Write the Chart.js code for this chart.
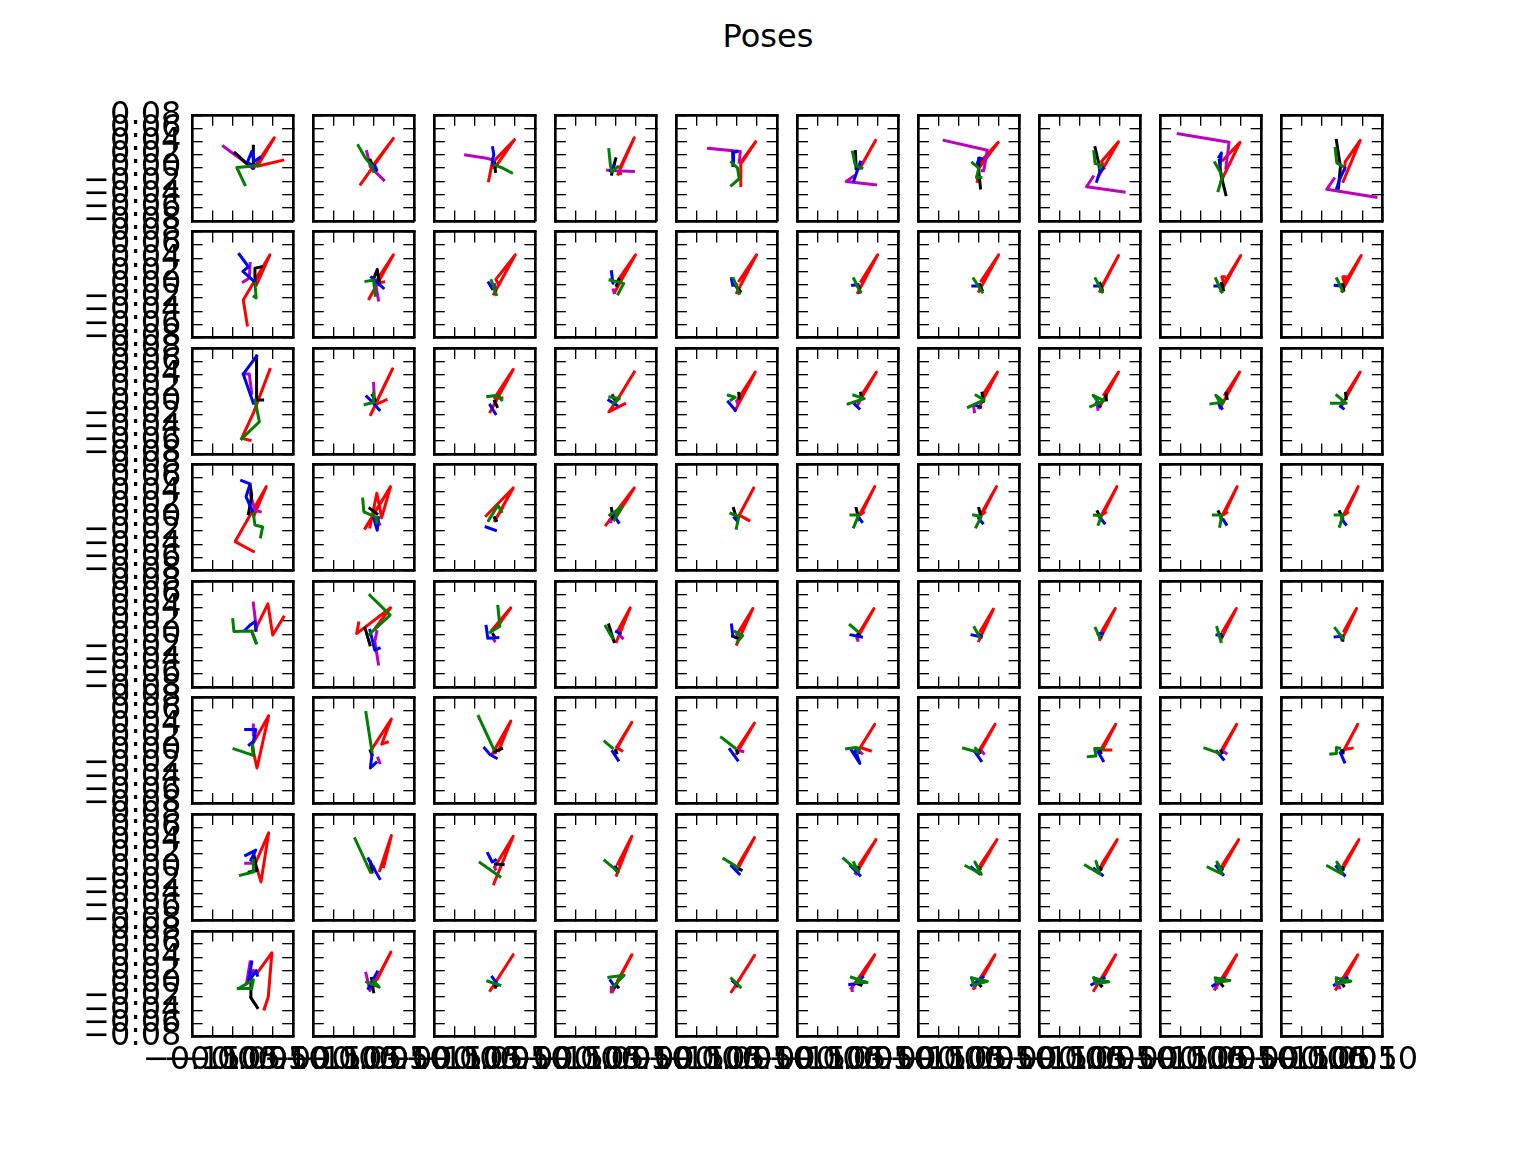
<!DOCTYPE html>
<html>
<head>
<meta charset="utf-8">
<script src="https://cdn.jsdelivr.net/npm/chart.js@4.4.1/dist/chart.umd.min.js"></script>
<style>
  html, body { margin:0; padding:0; background:#fff; }
  #fig { position:relative; width:1536px; height:1152px; overflow:hidden; background:#fff; }
  #title { position:absolute; left:0; width:1536px; top:20px; text-align:center;
           font-family:"DejaVu Sans"; font-size:32px; line-height:32px; color:#000; }
  canvas { position:absolute; }
</style>
</head>
<body>
<div id="fig"><div id="title">Poses</div></div>
<script>
const figureTitle = "Poses";
const nRows = 8, nCols = 10;
const xTicks = [-0.15, -0.10, -0.05, 0.00, 0.05, 0.10];
const yTicks = [-0.08, -0.06, -0.04, -0.02, 0.00, 0.02, 0.04, 0.06, 0.08];
const xRange = [-0.15, 0.10];
const yRange = [-0.08, 0.08];

// one flat [x1,y1,x2,y2,...] polyline per panel, panels in row-major order
const redLines = [
 [.003,0,.054,.046,.012,.003,.075,.012],[-.003,.003,.049,.045,-.032,-.024],[-.015,-.019,-.006,.008,.049,.043,0,0],[.006,-.009,.046,.046,.01,0,.012,-.008],[.01,-.026,.01,.009,.047,.04,.014,.01],
 [.005,0,.044,.042,.01,.005],[-.004,-.02,0,0,.048,.039,.004,.01],[-.004,-.013,.046,.04,.004,.01,.01,0],[0,-.02,.047,.039,.005,.012],[.003,-.02,.045,.042,.008,.01,.006,-.002],
 [-.013,-.061,-.023,-.023,.043,.045,.01,0],[-.011,-.021,.049,.045,.003,.002,.025,.004],[-.002,-.014,.051,.045,.003,.008,.01,0],[-.002,-.011,.049,.045,.005,.006],[0,-.012,.049,.045,.006,.006],
 [0,-.012,.049,.045,.008,.005],[0,-.01,.049,.045,.006,.006],[0,-.01,.046,.044,.007,0],[0,-.01,.049,.044,.007,.002,.002,.012,.008,.012],[0,-.01,.0475,.044,.006,.002,.002,.012,.008,.012],
 [-.006,-.059,-.027,-.056,.002,-.018,.043,.048],[-.007,-.02,.047,.049,.004,-.005,.031,.002],[-.011,-.016,.046,.048,0,.005,.018,.005],[.046,.044,.004,.002,-.017,-.016,.022,-.004],[-.004,-.014,.046,.044,.003,.003],
 [0,-.005,.046,.044,.01,.01],[0,-.01,.046,.044,.01,.01],[0,-.008,.046,.044,.01,.01],[0,-.008,.046,.044,.01,.01],[0,-.006,.045,.044,.01,.01],
 [.002,-.051,-.043,-.036,.034,.047,.005,.005],[-.009,-.014,.008,.037,.02,0,.042,.047,-.021,-.016],[-.021,.003,.046,.045,0,-.005,.02,.015],[-.024,-.011,.046,.045,0,0],[.002,-.001,.042,.045,.006,.004,.03,-.004],
 [0,0,.042,.047,.008,.005,.014,.008],[0,0,.0435,.047,.008,.005,.014,.008],[0,0,.042,.047,.008,.005,.014,.008],[0,0,.04,.047,.008,.005,.014,.008],[0,0,.04,.047,.008,.005,.014,.008],
 [.006,.006,.038,.046,.05,-.001,.077,.026],[-.037,.017,-.042,.001,.042,.04,.005,.01],[-.006,.007,.04,.04,.005,.01],[.002,-.011,.036,.04,.005,.005],[0,-.015,.04,.039,.006,.005],
 [0,-.005,.04,.039,.006,.005],[0,-.01,.036,.038,.004,.005],[0,-.008,.038,.039,.005,.005],[0,-.008,.038,.039,.005,.005],[0,-.008,.036,.039,.005,.005],
 [0,.005,.011,-.026,.04,.053,0,.01],[-.004,.003,.044,.048,.02,.01,.034,.013],[-.006,-.005,.04,.045,.01,0],[0,0,.04,.043,.002,.005,.015,0],[0,-.004,.044,.042,.004,.005],
 [0,-.001,.042,.04,.006,.005,.031,0],[0,-.004,.04,.04,.004,.004],[0,0,.039,.04,.006,.001,.027,.001],[0,-.004,.039,.04,.004,.004],[0,-.004,.039,.04,.006,.002,.025,.004],
 [.005,.003,.04,.052,.021,-.022,.01,0],[.015,-.005,.044,.048,.025,.001],[-.002,-.025,.046,.047,0,0],[.002,-.012,.04,.047,.005,.005],[0,-.005,.044,.045,.005,.005],
 [0,-.005,.045,.042,.005,.005],[0,-.005,.045,.042,.005,.005],[0,-.005,.043,.042,.005,.005],[0,-.005,.044,.042,.005,.005],[0,-.005,.042,.042,.005,.005],
 [.029,-.038,.039,-.02,.048,.047,.01,.015],[0,-.002,.043,.048,.01,.008],[-.011,-.01,.046,.044,.005,.005],[-.008,-.012,.04,.044,.005,.005],[-.013,-.012,.044,.043,.005,.005],
 [-.016,-.007,.042,.044,.002,.002],[-.013,-.007,.04,.044,.002,.002],[-.015,-.01,.039,.044,.002,.002],[-.015,-.008,.039,.044,.002,.002],[-.015,-.008,.039,.044,.002,.002]
];
const greenLines = [
 [.015,.005,-.002,.003,-.039,.001,-.019,-.025],[-.038,.034,-.02,.015,-.003,.003,0,-.005],[0,.005,.02,0,.042,-.007],[-.017,.028,-.013,.004,-.01,-.005,.005,.002],[-.013,.009,.002,0,.006,-.016,-.013,-.026],
 [-.013,.024,-.006,.004,.01,0],[-.016,.008,0,0,-.006,-.014,.005,-.014],[-.015,.025,-.012,.007,.002,.005,0,0],[-.015,.008,.004,-.012,-.007,-.034],[-.017,.03,-.013,.008,.001,.003],
 [.006,.002,.009,-.02,.004,-.018],[-.019,.005,0,.007,.004,-.016],[-.008,.006,.004,-.015],[-.014,.007,.02,.002,.006,-.014],[-.008,.009,.006,-.013],
 [-.01,.009,.006,-.011],[-.013,.009,.008,-.011],[-.011,.009,.006,-.011],[-.013,.009,.002,-.011],[-.013,.009,.002,-.01],
 [-.027,-.057,.017,-.031,.006,.002],[-.021,-.005,0,-.002,0,.012],[-.017,.007,.008,.009,.017,.002],[-.0145,.0065,.009,.004,-.0066,-.0035],[-.021,.009,-.004,.006,-.014,.002],
 [-.024,-.004,.016,.004,-.01,.009],[-.026,-.009,.013,.002,-.007,.009],[-.023,-.008,.01,.001,-.017,.009,-.002,-.003],[-.025,-.004,.007,-.001,-.013,.009,0,-.004],[-.026,-.003,.01,-.003,-.013,.009],
 [.002,.006,.006,-.011,.025,-.014,.02,-.029],[-.027,.028,-.024,.009,.006,.001,.008,-.008],[-.015,-.004,.008,.019,.017,.009],[-.0145,.004,.016,.0166,-.004,-.0035],[-.0145,.0065,.005,.0015,-.001,-.016],
 [-.017,.004,.002,.004,-.01,-.014],[-.013,.004,.006,.002,-.007,-.014],[-.014,.004,.004,.003,-.004,-.01],[-.019,.004,.002,.004,-.003,-.013],[-.017,.004,.002,.004,-.006,-.013],
 [-.049,.022,-.046,.004,-.002,.005,.009,-.013],[-.009,.059,.041,.029,0,.006,-.01,0],[.008,.042,.013,.012,-.011,.003],[-.025,.012,-.008,-.006],[-.004,.004,.015,-.002,.002,-.011],
 [-.019,.014,0,.004],[-.011,.01,.002,-.004],[-.011,.009,0,-.006],[-.01,.01,0,-.011],[-.017,.009,.002,-.006],
 [-.046,.003,.002,-.007,0,.009],[-.019,.058,-.004,-.001],[-.04,.052,-.002,.002],[-.027,.014,-.008,.004],[-.038,.02,-.004,.004],
 [-.028,.003,-.005,.005,.003,.004,0,-.003],[-.038,.004,0,-.0025,-.008,.0035],[-.029,-.009,-.01,-.008,-.013,.0035,.008,.0035],[-.04,.004,-.004,-.004],[-.028,-.005,-.014,-.004,-.014,.005,-.006,.004],
 [-.03,-.012,.002,-.007,.002,.011],[-.046,.043,-.008,-.007],[-.036,.007,.013,-.014],[-.027,.01,.006,-.007],[-.032,.013,.002,0],
 [-.035,.013,.002,-.007,-.01,.007],[-.032,.002,.006,-.0105,-.01,.008,0,-.002],[-.036,.003,0,-.01,-.01,.009,-.005,0],[-.032,0,.002,-.01,-.01,.008,0,-.002],[-.036,.002,0,-.01,-.013,.008,-.004,0],
 [-.035,-.007,.002,.006,-.002,-.007,-.035,-.007],[-.017,.003,.014,-.005,0,.005],[-.017,.004,.013,-.002],[-.017,.01,.021,.013,-.008,-.005],[-.013,.008,.009,-.005],
 [-.016,.01,.023,.002,-.006,.002,.005,.008],[-.018,.009,.021,.004,-.013,-.002,-.018,.009],[-.015,.009,.022,.003,-.011,0,-.015,.009],[-.014,.009,.022,.005,-.012,.002,-.014,.009],[-.014,.009,.022,.004,-.014,0,-.014,.009]
];
const blueLines = [
 [0,0,-.012,.01,-.002,.025,.004,.01,.018,.016],[0,0,.008,-.003,.003,.004],[-.005,.031,-.002,.02,-.006,.012,-.003,.005],[-.013,-.004,-.005,.004],[-.009,.004,-.008,.024,0,.025],
 [.006,.009,-.01,-.019],[-.004,.007,.001,.015,.007,.014],[-.008,-.02,0,-.005,.008,0],[-.005,.017,.001,.023,-.002,.005],[.007,0,-.007,-.018,-.013,-.03],
 [-.033,.046,-.01,.027,-.024,.02,.006,.004],[-.005,.011,.024,-.005],[-.015,.003,-.006,-.006],[-.0105,.0196,-.0066,.002,-.01,.008],[-.013,.009,-.01,-.001],
 [-.013,-.001,0,0],[-.015,-.002,0,-.002],[-.013,-.002,-.004,-.002],[-.015,-.002,-.004,-.002],[-.017,-.001,-.002,-.002],
 [.01,.068,-.023,.041,.002,-.003],[-.017,.007,0,-.003,.014,-.013],[-.011,-.006,.002,-.019],[-.017,.0015,.0026,-.006],[-.021,-.001,-.004,-.0135],
 [-.008,-.0045,.003,-.011],[-.008,-.006,.004,-.009],[-.008,-.002,0,-.008],[-.004,-.006,.002,-.011],[-.004,-.008,.003,-.011],
 [-.027,.056,-.006,.051,-.016,.032,.002,.006],[0,0,.009,-.019,.012,0],[-.021,-.014,.002,-.019],[-.007,.006,.007,-.007],[-.006,0,0,-.004],
 [.002,.001,.01,-.006],[0,-.001,.009,-.008],[.002,-.001,.011,-.008],[.006,-.003,.013,-.01],[0,-.003,.009,-.01],
 [-.019,.006,-.006,.014,.006,.019,.009,.006],[-.009,.006,.003,-.024,.014,-.021],[-.021,.012,-.017,-.006,.008,-.005],[.002,.004,.011,.001],[-.013,.014,-.01,-.001],
 [-.017,-.001,.009,-.004],[-.017,-.001,.006,-.004],[-.004,.001,.006,.001],[-.01,-.001,0,-.002],[-.017,-.004,0,-.003],
 [-.017,.032,.008,.032,.002,.014,-.008,.009],[-.004,-.006,-.008,-.026,.006,-.018],[-.025,.004,-.011,-.006,.004,-.011],[-.008,-.001,.006,-.014],[-.017,.002,.002,-.014],
 [-.016,.001,.005,-.019,-.006,0],[-.01,-.0015,.0055,-.015],[-.005,-.001,.008,-.015],[-.01,-.001,.006,-.013],[-.004,-.003,.006,-.017],
 [-.017,.018,.008,.026,-.004,.011],[-.013,.013,.015,-.017],[-.017,.021,-.006,.008,.002,.011],[-.004,0,.002,-.005],[-.013,.002,.006,-.01],
 [-.018,.002,.005,-.012],[-.018,0,.001,-.0095],[-.014,-.002,.006,-.012],[-.012,.002,.005,-.011],[-.014,.001,.006,-.012],
 [-.002,.033,-.01,.003,.009,.02,.012,.013],[-.013,-.007,.009,.018],[-.006,.01,.008,-.002],[-.013,.005,-.002,-.005],[-.01,.004,-.002,0],
 [-.02,-.001,-.006,0,.012,.01],[-.018,-.002,.01,.01],[-.02,-.001,.01,.009],[-.02,-.003,.007,.008],[-.019,-.002,.012,.009]
];
const blackLines = [
 [.002,.033,.002,.005,-.014,.007,-.043,.023],[0,0,-.008,.012],[0,.008,.002,-.005],[-.01,-.009,0,.014],[-.01,.024,-.009,.004],
 [-.006,.025,-.004,-.001],[.004,-.03,-.002,.005,0,.015],[-.012,.031,-.004,.01,0,-.005],[-.004,.012,0,-.01,.012,-.04],[-.014,.042,-.004,.002,-.009,-.03],
 [.006,.002,.006,.025,.022,.027],[-.001,.007,.009,.023,.015,0],[-.005,0,.002,-.01],[.002,-.001,.008,.008],[-.004,-.001,.009,-.01],
 [.002,-.003,.006,-.011],[.002,0,.008,-.008],[0,.002,.006,-.008],[.002,.002,.006,-.008],[.002,0,.004,-.008],
 [.01,.068,.01,.002,.025,.002],[-.003,.009,.004,.002],[0,0,.006,-.008],[-.008,.007,0,0],[.005,.012,.006,.005],
 [.007,.012,.009,.004],[.008,.012,.011,0],[.015,.009,.016,.002],[.013,.012,.015,.004],[.009,.012,.01,.004],
 [-.006,.049,-.002,.034,-.01,.006],[-.009,.014,.008,.006],[0,0,.004,-.004],[-.0105,.014,-.0066,-.001],[-.008,.014,-.002,.002],
 [-.004,.014,0,.004],[0,.014,.004,.004],[-.006,.009,-.002,.004],[-.006,.009,-.002,.004],[-.006,.009,-.002,.004],
 [-.002,.004,.009,-.013],[-.021,.009,-.009,-.016],[-.004,0,0,-.004],[-.017,.014,-.004,-.011],[-.01,-.003,.002,-.006],
 [0,0,.004,-.002],[0,0,.004,-.002],[0,-.005,.002,-.005],[0,0,.002,-.003],[0,-.004,.002,-.009],
 [0,.009,.002,-.006],[-.008,0,-.004,-.006],[0,-.001,.017,.003],[0,0,.002,-.003],[0,0,.002,-.003],
 [0,0,.002,-.003],[0,0,.002,-.003],[0,0,.002,-.003],[0,0,.002,-.003],[0,0,.002,-.003],
 [.002,.023,.011,-.005,-.008,-.007],[-.008,.008,-.004,-.007],[.002,.005,.021,.004],[0,0,.002,-.003],[.008,-.003,.011,-.004],
 [0,0,.002,-.003],[0,0,.002,-.003],[0,0,.002,-.003],[0,0,.002,-.003],[0,0,.002,-.003],
 [.012,-.036,-.005,-.02,-.004,0],[-.005,.008,0,-.012],[0,0,.002,-.005],[.002,-.002,.006,-.005],[0,0,.002,-.003],
 [0,0,.008,-.002],[0,0,.004,-.003],[0,0,.004,-.003],[0,0,.004,-.003],[0,0,.004,-.003]
];
const magentaLines = [
 [0,0,-.03,.014,-.072,.033],[-.017,.025,-.008,.002,.025,-.018],[-.072,.02,-.02,.015,-.002,.012],[-.02,-.003,0,-.004,.044,-.005],[-.07,.03,.009,.025,.006,.009],
 [-.01,-.012,-.029,-.02,.044,-.025],[-.086,.042,.021,.027,.012,-.004,.008,-.004],[-.017,-.013,-.033,-.028,.06,-.036],[-.106,.052,.02,.039,.012,0],[-.02,-.016,-.038,-.032,.084,-.044],
 [-.006,.032,-.008,.01,-.023,.004],[.004,.005,.012,-.023],[0,0,.002,-.005],[-.006,-.008,-.004,-.012],[-.004,.002,0,0],
 [0,0,0,-.002],[0,0,0,-.002],[0,0,0,-.002],[0,0,0,-.002],[0,0,0,-.002],
 [-.023,.041,-.008,.041,-.002,.012],[0,.027,.002,.002],[0,0,.002,-.003],[-.007,.009,-.005,.005],[0,0,.002,-.003],
 [0,0,.002,-.003],[-.013,-.008,-.011,-.016],[-.006,-.008,-.005,-.012],[-.004,-.006,-.002,-.01],[0,0,.002,-.003],
 [-.006,.037,.006,.011,.019,.009],[.012,-.006,.015,-.01],[0,0,.002,-.003],[-.014,-.003,-.012,-.006],[0,0,.002,-.003],
 [0,0,.002,-.003],[0,0,.002,-.003],[0,0,.002,-.003],[0,0,.002,-.003],[0,0,.002,-.003],
 [.002,.047,.009,.011],[.008,.004,.003,-.011,.012,-.045],[-.004,-.006,0,-.01],[.011,-.002,.017,-.006],[0,0,.002,-.003],
 [-.002,-.006,0,-.009],[0,0,.002,-.003],[0,0,.002,-.003],[0,0,.002,-.003],[-.002,-.006,0,-.008],
 [.002,.039,.002,.024],[.011,-.011,.015,-.018],[0,0,.002,-.003],[0,0,.002,-.003],[.006,0,.015,-.001],
 [.005,-.001,.01,-.004],[.008,-.001,.012,-.004],[0,0,.002,-.003],[.006,-.001,.013,-.004],[0,0,.002,-.003],
 [-.017,.006,.002,.006],[0,0,.002,-.003],[0,0,.002,-.003],[0,0,.002,-.003],[0,0,.002,-.003],
 [-.006,-.009,-.004,-.01],[0,0,.002,-.003],[0,0,.002,-.003],[0,0,.002,-.003],[0,0,.002,-.003],
 [-.006,.033,-.015,0,.002,.02],[-.019,.016,-.009,-.01,0,.006],[0,0,.002,-.003],[-.011,-.005,-.011,-.012],[0,0,.002,-.003],
 [-.014,-.002,-.014,-.01],[-.012,-.003,-.01,-.006],[0,0,.002,-.003],[-.014,-.003,-.012,-.006],[-.008,-.002,-.006,-.006]
];

// series: name, lines, colour, draw order (lower = on top)
const seriesDefs = [
  { name: "green",   lines: greenLines,   color: "#008000", order: 0 },
  { name: "blue",    lines: blueLines,    color: "#0000ff", order: 1 },
  { name: "black",   lines: blackLines,   color: "#000000", order: 2 },
  { name: "magenta", lines: magentaLines, color: "#bf00bf", order: 3 },
  { name: "red",     lines: redLines,     color: "#ff0000", order: 4 }
];

// ---- layout (matplotlib-like subplot geometry) ----
const FIG_W = 1536, FIG_H = 1152;
const DPI = 192, PT = DPI / 72;
const sLeft = 0.125 * FIG_W, sRight = 0.9 * FIG_W;
const sTop = 0.1 * FIG_H, sBottom = 0.9 * FIG_H;
const wspace = 0.2, hspace = 0.1;
const pw = (sRight - sLeft) / (nCols + (nCols - 1) * wspace);
const ph = (sBottom - sTop) / (nRows + (nRows - 1) * hspace);
const gw = pw * wspace, gh = ph * hspace;
const TICK_LEN = 4 * PT, TICK_W = 0.5 * PT, FRAME_W = 1 * PT, LINE_W = 3;
const FONT = { family: "DejaVu Sans", size: 32 };

Chart.defaults.font.family = "DejaVu Sans";
document.getElementById('title').textContent = figureTitle;

const fmt = v => (v < -1e-12 ? '\u2212' : '') + Math.abs(v).toFixed(2);
const toPts = a => { const o = []; for (let i = 0; i + 1 < a.length; i += 2) o.push({ x: a[i], y: a[i + 1] }); return o; };

function axisOpts(axis, pos, range, tickVals, showLabels, size, pad) {
  return {
    type: 'linear', axis: axis, position: pos, min: range[0], max: range[1], display: true,
    afterBuildTicks: s => { s.ticks = tickVals.map(v => ({ value: v })); },
    afterFit: s => {
      if (axis === 'x') s.height = size; else s.width = size;
      s.paddingLeft = 0; s.paddingRight = 0; s.paddingTop = 0; s.paddingBottom = 0;
    },
    grid: { display: true, drawOnChartArea: false, drawTicks: true, tickLength: -TICK_LEN,
            lineWidth: TICK_W, color: '#000' },
    border: { display: true, color: '#000', width: FRAME_W },
    ticks: { display: showLabels, autoSkip: false, maxRotation: 0, minRotation: 0,
             padding: pad, color: '#000', font: FONT, callback: v => fmt(v) }
  };
}

const fig = document.getElementById('fig');
for (let r = 0; r < nRows; r++) {
  for (let c = 0; c < nCols; c++) {
    const idx = r * nCols + c;
    const bx = sLeft + c * (pw + gw), by = sTop + r * (ph + gh);
    const mL0 = c === 0 ? 190 : 62, mR0 = 62, mT0 = 30, mB0 = r === nRows - 1 ? 90 : 30;
    const cx = Math.floor(bx - mL0), cy = Math.floor(by - mT0);
    const mL = bx - cx, mT = by - cy;
    const cw = Math.ceil(bx + pw + mR0) - cx, ch = Math.ceil(by + ph + mB0) - cy;
    const mR = cw - mL - pw, mB = ch - mT - ph;
    const cv = document.createElement('canvas');
    cv.width = cw; cv.height = ch;
    cv.style.left = cx + 'px'; cv.style.top = cy + 'px';
    cv.style.width = cw + 'px'; cv.style.height = ch + 'px';
    fig.appendChild(cv);

    const datasets = seriesDefs.map(s => ({
      label: s.name, data: toPts(s.lines[idx]), showLine: true, fill: false,
      borderColor: s.color, backgroundColor: s.color, borderWidth: LINE_W,
      pointRadius: 0, pointHoverRadius: 0, tension: 0, order: s.order,
      borderJoinStyle: 'round', borderCapStyle: 'square',
      xAxisID: 'x', yAxisID: 'y'
    }));

    new Chart(cv, {
      type: 'scatter',
      data: { datasets },
      options: {
        responsive: false, animation: false, devicePixelRatio: 1, events: [],
        layout: { padding: 0 },
        plugins: { legend: { display: false }, tooltip: { enabled: false }, title: { display: false } },
        scales: {
          x:  axisOpts('x', 'bottom', xRange, xTicks, r === nRows - 1, mB, 15),
          y:  axisOpts('y', 'left',   yRange, yTicks, c === 0, mL, 21.3),
          x2: axisOpts('x', 'top',    xRange, xTicks, false, mT, 0),
          y2: axisOpts('y', 'right',  yRange, yTicks, false, mR, 0)
        }
      }
    });
  }
}
</script>
</body>
</html>
